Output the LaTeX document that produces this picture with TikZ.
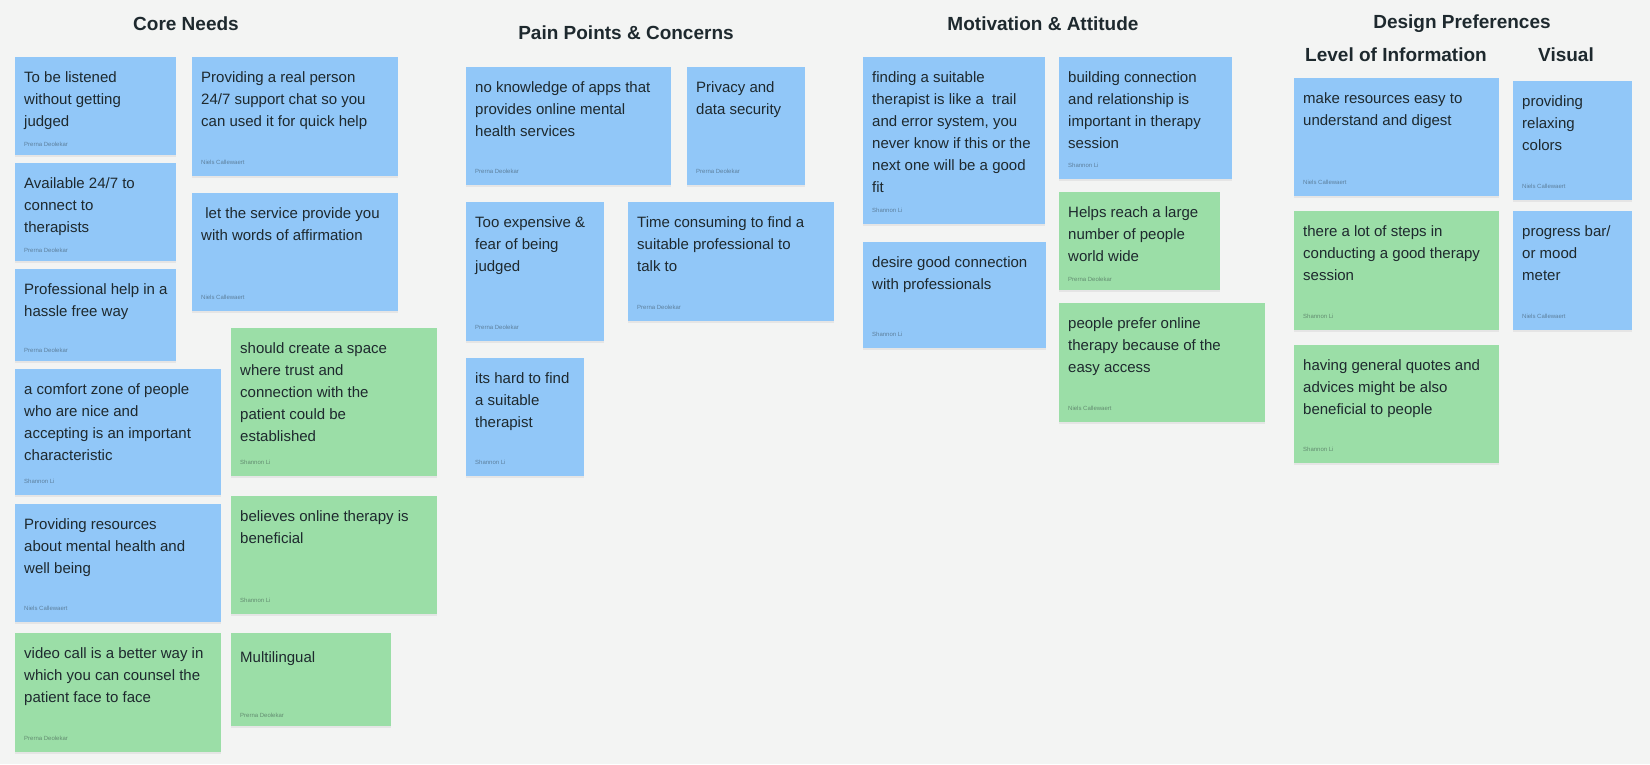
\documentclass[tikz,border=0pt]{standalone}
\usepackage{fontspec}
\setmainfont{Liberation Sans}
\usetikzlibrary{shadows}
\definecolor{Paper}{HTML}{F3F4F3}
\definecolor{NoteBlue}{HTML}{91C7F8}
\definecolor{NoteGreen}{HTML}{9BDEA7}
\definecolor{Ink}{HTML}{1E292E}

\begin{document}
\begin{tikzpicture}[x=1pt,y=-1pt,
note/.style={anchor=north west,inner sep=0pt,drop shadow={shadow xshift=0pt,shadow yshift=-2pt,opacity=0.12}},
notetext/.style={anchor=north west,inner sep=0pt,align=left,text=Ink,font=\fontsize{15}{22}\selectfont,execute at begin node=\strut},
author/.style={anchor=west,inner sep=0pt,text=Ink,text opacity=0.45,font=\fontsize{6}{7}\selectfont},
title/.style={inner sep=0pt,text=Ink,font=\fontsize{19}{22}\selectfont\bfseries}]
\path[use as bounding box,fill=Paper] (0,0) rectangle (1650,764);
% column headings
\node[title] (core) at (186,24) {Core Needs};
\node[title] (pain) at (626,33) {Pain Points \& Concerns};
\node[title] (motiv) at (1043,24) {Motivation \& Attitude};
\node[title] (design) at (1462,24) {Design Preferences};
\node[title] (level) at (1396,55) {Level of Information};
\node[title] (visual) at (1566,55) {Visual};
% sticky notes: name/x/y/width/height/colour/text/author
\foreach \n/\x/\y/\w/\h/\c/\t/\a in {
cn1/15/57/161/98/NoteBlue/{To be listened\\without getting\\judged}/Prerna Deolekar,
cn2/15/163/161/98/NoteBlue/{Available 24/7 to\\connect to\\therapists}/Prerna Deolekar,
cn3/15/269/161/92/NoteBlue/{Professional help in a\\hassle free way}/Prerna Deolekar,
cn4/15/369/206/126/NoteBlue/{a comfort zone of people\\who are nice and\\accepting is an important\\characteristic}/Shannon Li,
cn5/15/504/206/118/NoteBlue/{Providing resources\\about mental health and\\well being}/Niels Callewaert,
cn6/15/633/206/119/NoteGreen/{video call is a better way in\\which you can counsel the\\patient face to face}/Prerna Deolekar,
cn7/192/57/206/119/NoteBlue/{Providing a real person\\24/7 support chat so you\\can used it for quick help}/Niels Callewaert,
cn8/192/193/206/118/NoteBlue/{\ let the service provide you\\with words of affirmation}/Niels Callewaert,
cn9/231/328/206/148/NoteGreen/{should create a space\\where trust and\\connection with the\\patient could be\\established}/Shannon Li,
cn10/231/496/206/118/NoteGreen/{believes online therapy is\\beneficial}/Shannon Li,
cn11/231/633/160/93/NoteGreen/{Multilingual}/Prerna Deolekar,
pp1/466/67/205/118/NoteBlue/{no knowledge of apps that\\provides online mental\\health services}/Prerna Deolekar,
pp2/687/67/118/118/NoteBlue/{Privacy and\\data security}/Prerna Deolekar,
pp3/466/202/138/139/NoteBlue/{Too expensive \&\\fear of being\\judged}/Prerna Deolekar,
pp4/628/202/206/119/NoteBlue/{Time consuming to find a\\suitable professional to\\talk to}/Prerna Deolekar,
pp5/466/358/118/118/NoteBlue/{its hard to find\\a suitable\\therapist}/Shannon Li,
ma1/863/57/182/167/NoteBlue/{finding a suitable\\therapist is like a\ \ trail\\and error system, you\\never know if this or the\\next one will be a good\\fit}/Shannon Li,
ma2/863/242/183/106/NoteBlue/{desire good connection\\with professionals}/Shannon Li,
ma3/1059/57/173/122/NoteBlue/{building connection\\and relationship is\\important in therapy\\session}/Shannon Li,
ma4/1059/192/161/98/NoteGreen/{Helps reach a large\\number of people\\world wide}/Prerna Deolekar,
ma5/1059/303/206/119/NoteGreen/{people prefer online\\therapy because of the\\easy access}/Niels Callewaert,
dp1/1294/78/205/118/NoteBlue/{make resources easy to\\understand and digest}/Niels Callewaert,
dp2/1294/211/205/119/NoteGreen/{there a lot of steps in\\conducting a good therapy\\session}/Shannon Li,
dp3/1294/345/205/118/NoteGreen/{having general quotes and\\advices might be also\\beneficial to people}/Shannon Li,
dp4/1513/81/119/119/NoteBlue/{providing\\relaxing\\colors}/Niels Callewaert,
dp5/1513/211/119/119/NoteBlue/{progress bar/\\or mood\\meter}/Niels Callewaert}{
\pgfmathsetmacro\ay{\h<100 ? 11 : 14}
\node[note,fill=\c,minimum width=\w,minimum height=\h] (\n) at (\x,\y) {};
\node[notetext] (\n-t) at ([shift={(9,14)}]\n.north west) {\t};
\node[author] (\n-a) at ([shift={(9,-\ay)}]\n.south west) {\a};
}
\end{tikzpicture}
\end{document}
